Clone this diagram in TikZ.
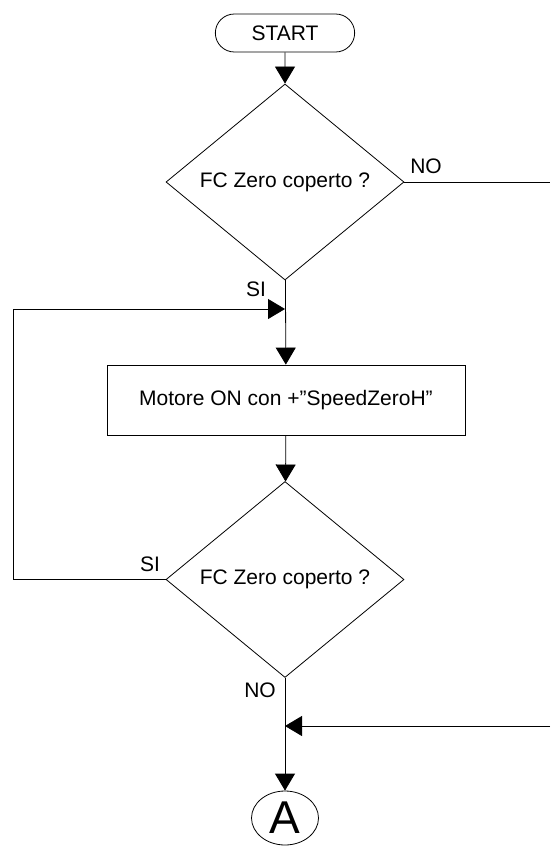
\documentclass[tikz,border=0pt]{standalone}
\usepackage{fontspec}
\setmainfont{Liberation Sans}
\usetikzlibrary{shapes.geometric,shapes.misc,arrows.meta}

\tikzset{
    flow/.style={line width=0.8pt,-{Triangle[length=17pt,width=20pt]}},
    plain/.style={line width=0.8pt},
    decision/.style={diamond,draw,line width=0.8pt,inner sep=0pt,minimum width=238pt,minimum height=196pt},
    process/.style={rectangle,draw,line width=0.8pt,minimum width=358pt,minimum height=70pt},
    terminal/.style={rounded rectangle,draw,line width=0.8pt,minimum width=146pt,minimum height=38pt},
    connector/.style={ellipse,draw,line width=0.8pt,inner sep=0pt,minimum width=67pt,minimum height=54pt}
}

\begin{document}
\begin{tikzpicture}[x=1pt,y=-1pt,font=\fontsize{21}{25}\selectfont]
        \useasboundingbox (0,0) rectangle (550,846);
        \node[terminal] at (285,33) (start) {START};
        \node[decision] at (285,182) (check1) {FC Zero coperto ?};
        \node[process] at (286,400) (motore) {Motore ON con +''SpeedZeroH''};
        \node[decision] at (285,579.5) (check2) {FC Zero coperto ?};
        \node[connector] at (285,818) (pageA) {\fontsize{46}{50}\selectfont A};
        \coordinate (noout) at (550,182);
        \coordinate (noin) at (550,726);
        \coordinate (join2) at (285,726);
        \coordinate (loopjoin) at (285,309);
        \coordinate (loopleft) at (13,309);
        \node[] at (426,166) (no1) {NO};
        \node[] at (256,289) (si1) {SI};
        \node[] at (150,564) (si2) {SI};
        \node[] at (260,690) (no2) {NO};
        \draw[flow] (start) -- (check1);
        \draw[plain] (check1.east) -- (noout);
        \draw[flow] (check1) -- (motore);
        \draw[flow] (check2.west) -- (check2.west -| loopleft) |- (loopjoin);
        \draw[flow] (motore) -- (check2);
        \draw[flow] (check2) -- (pageA);
        \draw[flow] (noin) -- (join2);
    \end{tikzpicture}
\end{document}
